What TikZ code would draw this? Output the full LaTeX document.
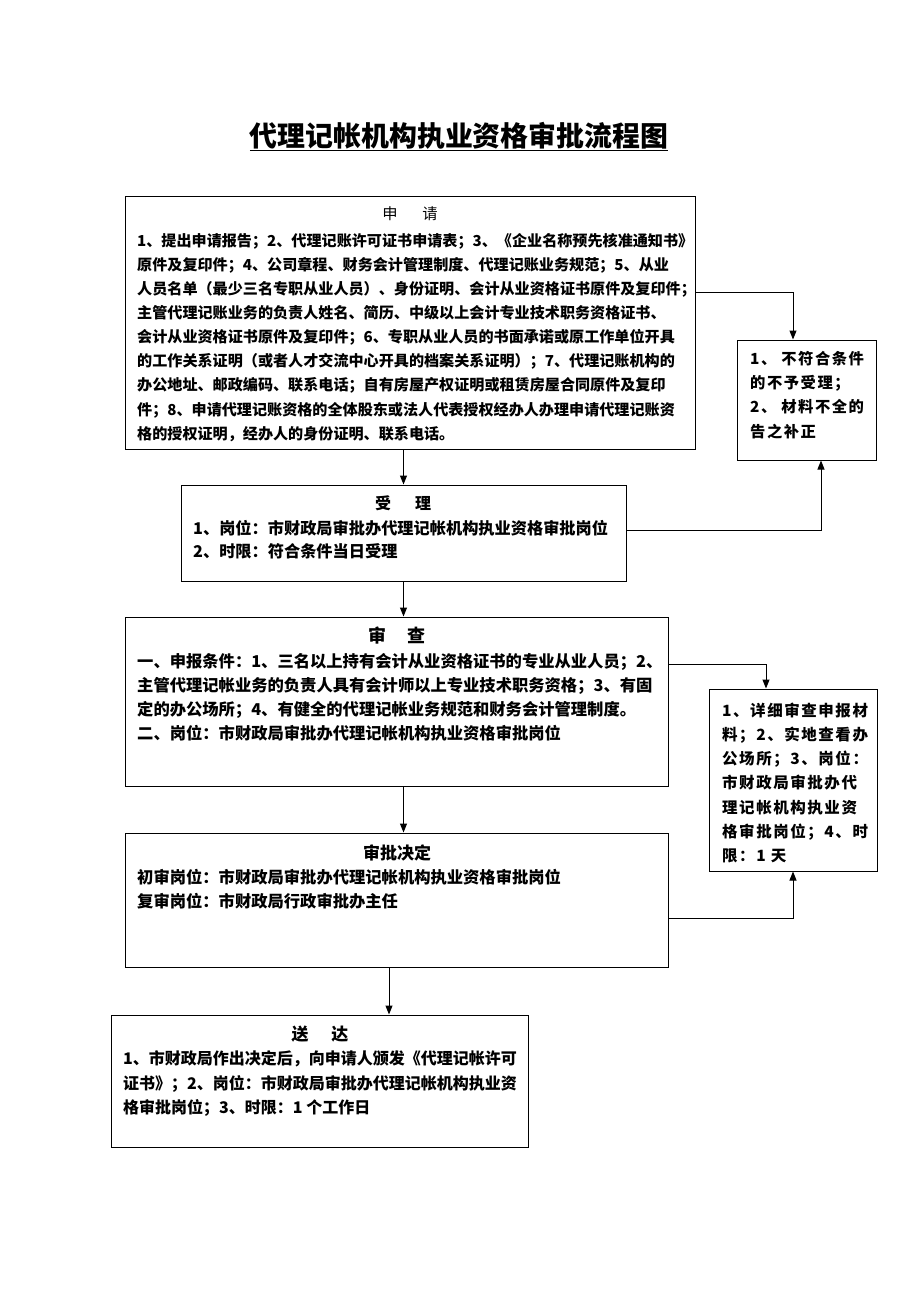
\documentclass[tikz,border=0pt]{standalone}
\usepackage{fontspec}
\usepackage{tikz}
\usetikzlibrary{arrows.meta}
\newfontfamily\cjk{Noto Sans CJK SC}
\newfontfamily\cjkwide{Noto Sans CJK SC}[LetterSpace=10]
\newcommand\zh[2]{\cjk\bfseries\fontsize{#1}{#2}\selectfont}
\newcommand\zhw[2]{\cjkwide\bfseries\fontsize{#1}{#2}\selectfont}

\begin{document}
\begin{tikzpicture}[x=1pt,y=-1pt,
  box/.style={draw,line width=1pt,inner sep=0pt},
  body/.style={anchor=north west,align=left,inner sep=0pt},
  head/.style={inner sep=0pt},
  arr/.style={line width=1pt,-{Triangle[length=9pt,width=7pt]}}]
\useasboundingbox (0,0) rectangle (920,1302);
\node[font=\zh{27.9}{30},anchor=base,inner sep=0pt] (title) at (459,146) {\underline{代理记帐机构执业资格审批流程图}};

\node[box,minimum width=570,minimum height=253] (apply) at (410,322.5) {};
\node[head,font=\cjk\fontsize{15.3}{20}\selectfont] (applyhead) at (410,214) {申\hspace{24.7pt}请};
\node[body,font=\zh{15.1}{24.1}] (applytext) at (137,233) {1、提出申请报告；2、代理记账许可证书申请表；3、《企业名称预先核准通知书》\\
原件及复印件；4、公司章程、财务会计管理制度、代理记账业务规范；5、从业\\
人员名单（最少三名专职从业人员）、身份证明、会计从业资格证书原件及复印件；\\
主管代理记账业务的负责人姓名、简历、中级以上会计专业技术职务资格证书、\\
会计从业资格证书原件及复印件；6、专职从业人员的书面承诺或原工作单位开具\\
的工作关系证明（或者人才交流中心开具的档案关系证明）；7、代理记账机构的\\
办公地址、邮政编码、联系电话；自有房屋产权证明或租赁房屋合同原件及复印\\
件；8、申请代理记账资格的全体股东或法人代表授权经办人办理申请代理记账资\\
格的授权证明，经办人的身份证明、联系电话。};

\node[box,minimum width=139,minimum height=120] (reject) at (806.5,400) {};
\node[body,font=\zhw{15.3}{24.3}] (rejecttext) at (750,351) {1、 不符合条件\\的不予受理；\\2、 材料不全的\\告之补正};

\node[box,minimum width=445,minimum height=96] (accept) at (403.5,533) {};
\node[head,font=\zh{16}{20}] (accepthead) at (403,503) {受\hspace{24pt}理};
\node[body,font=\zh{16.2}{23}] (accepttext) at (193,520.5) {1、岗位：市财政局审批办代理记帐机构执业资格审批岗位\\
2、时限：符合条件当日受理};

\node[box,minimum width=543,minimum height=169] (review) at (396.5,701.5) {};
\node[head,font=\zh{18}{20}] (reviewhead) at (397,636) {审\hspace{22pt}查};
\node[body,font=\zh{16.3}{24}] (reviewtext) at (137,653.5) {一、申报条件：1、三名以上持有会计从业资格证书的专业从业人员；2、\\
主管代理记帐业务的负责人具有会计师以上专业技术职务资格；3、有固\\
定的办公场所；4、有健全的代理记帐业务规范和财务会计管理制度。\\
二、岗位：市财政局审批办代理记帐机构执业资格审批岗位};

\node[box,minimum width=168,minimum height=182] (detail) at (793,780) {};
\node[body,font=\zhw{15.5}{24.2}] (detailtext) at (722,702.6) {1、详细审查申报材\\料；2、实地查看办\\公场所；3、岗位：\\市财政局审批办代\\理记帐机构执业资\\格审批岗位；4、时\\限：1 天};

\node[box,minimum width=543,minimum height=134] (decide) at (396.5,900) {};
\node[head,font=\zh{17}{20}] (decidehead) at (397,853) {审批决定};
\node[body,font=\zh{16.3}{24}] (decidetext) at (137,869.5) {初审岗位：市财政局审批办代理记帐机构执业资格审批岗位\\
复审岗位：市财政局行政审批办主任};

\node[box,minimum width=417,minimum height=132] (deliver) at (319.5,1081) {};
\node[head,font=\zh{17}{20}] (deliverhead) at (320,1034) {送\hspace{23pt}达};
\node[body,font=\zh{16}{24.5}] (delivertext) at (123,1050.5) {1、市财政局作出决定后，向申请人颁发《代理记帐许可\\
证书》；2、岗位：市财政局审批办代理记帐机构执业资\\
格审批岗位；3、时限：1 个工作日};

\draw[arr] (apply.south -| accept.north) -- (accept.north);
\draw[arr] (accept.south) -- (accept.south |- review.north);
\draw[arr] (accept.south |- review.south) -- (accept.south |- decide.north);
\coordinate (decideout) at ([xshift=-7.5pt]decide.south);
\draw[arr] (decideout) -- (decideout |- deliver.north);
\draw[arr] ([yshift=30.5pt]apply.east) -| ([xshift=-13.5pt]reject.north);
\draw[arr] ([yshift=3pt]accept.east) -| ([xshift=14.5pt]reject.south);
\draw[arr] ([yshift=37.5pt]review.east) -| ([xshift=-27pt]detail.north);
\draw[arr] ([yshift=-18pt]decide.east) -| (detail.south);
\end{tikzpicture}
\end{document}
